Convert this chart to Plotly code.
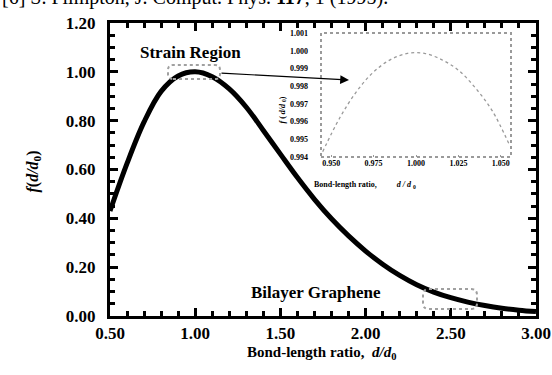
import plotly.graph_objects as go

# ---- main curve data ----
ratio = [0.5, 0.6, 0.7, 0.8, 0.9, 1.0, 1.1, 1.2, 1.3, 1.4, 1.5, 1.6, 1.7,
         1.8, 1.9, 2.0, 2.1, 2.2, 2.3, 2.4, 2.5, 2.6, 2.7, 2.8, 2.9, 3.0]
f_vals = [0.43, 0.625, 0.795, 0.92, 0.983, 1.00, 0.98, 0.93, 0.855, 0.76, 0.663,
          0.567, 0.478, 0.398, 0.328, 0.266, 0.212, 0.166, 0.128, 0.098, 0.075,
          0.057, 0.043, 0.032, 0.024, 0.018]

# ---- inset (zoom on strain region) ----
inset_ratio = [0.945, 0.955, 0.965, 0.975, 0.985, 0.995, 1.005, 1.015, 1.025,
               1.035, 1.045, 1.055]
inset_f = [0.9943, 0.9962, 0.9977, 0.9988, 0.9995, 0.99985, 0.99985, 0.9995,
           0.9989, 0.9979, 0.9966, 0.9947]

x_ticks = [0.5, 1.0, 1.5, 2.0, 2.5, 3.0]
y_ticks = [0.0, 0.2, 0.4, 0.6, 0.8, 1.0, 1.2]
inset_x_ticks = [0.950, 0.975, 1.000, 1.025, 1.050]
inset_y_ticks = [0.994, 0.995, 0.996, 0.997, 0.998, 0.999, 1.000, 1.001]

W, H = 552, 375
ML, MR, MT, MB = 110, 16, 23, 59
XR = [0.5, 3.0]
YR = [0.0, 1.2]
PW = W - ML - MR
PH = H - MT - MB

def px2x(px):
    return XR[0] + (px - ML) / PW * (XR[1] - XR[0])

def py2y(py):
    return YR[0] + (H - MB - py) / PH * (YR[1] - YR[0])

def px2paperx(px):
    return (px - ML) / PW

def py2papery(py):
    return (H - MB - py) / PH

def round_rect(px0, px1, py0, py1, r):
    x0, x1 = px2x(px0), px2x(px1)
    y0, y1 = py2y(py1), py2y(py0)
    rx = r / PW * (XR[1] - XR[0])
    ry = r / PH * (YR[1] - YR[0])
    return (f"M {x0+rx},{y0} L {x1-rx},{y0} Q {x1},{y0} {x1},{y0+ry} "
            f"L {x1},{y1-ry} Q {x1},{y1} {x1-rx},{y1} L {x0+rx},{y1} "
            f"Q {x0},{y1} {x0},{y1-ry} L {x0},{y0+ry} Q {x0},{y0} {x0+rx},{y0} Z")

SERIF = "Liberation Serif, Times New Roman, serif"

fig = go.Figure()
fig.add_trace(go.Scatter(x=ratio, y=f_vals, mode="lines",
                         line=dict(color="black", width=5, shape="spline"),
                         showlegend=False, hoverinfo="skip"))
fig.add_trace(go.Scatter(x=inset_ratio, y=inset_f, mode="lines",
                         line=dict(color="#9a9a9a", width=1.3, shape="spline", dash="dot"),
                         xaxis="x2", yaxis="y2", showlegend=False, hoverinfo="skip"))

tickfont = dict(family=SERIF, size=17, color="black")
small = dict(family=SERIF, size=8, color="black")

def b(vals, fmt):
    return [f"<b>{v:{fmt}}</b>" for v in vals]

inset_x_dom = [px2paperx(321), px2paperx(511)]
inset_y_dom = [py2papery(157), py2papery(33)]

fig.update_layout(
    width=W, height=H,
    margin=dict(l=ML, r=MR, t=MT, b=MB),
    paper_bgcolor="white", plot_bgcolor="white",
    xaxis=dict(range=XR, tickvals=x_ticks, ticktext=b(x_ticks, ".2f"), showgrid=False,
               zeroline=False, showline=True, linecolor="black", linewidth=3,
               mirror="ticks", ticks="inside", ticklen=8, tickwidth=3,
               tickcolor="black", tickfont=tickfont, automargin=False,
               minor=dict(dtick=0.1, ticks="inside", ticklen=5, tickwidth=3,
                          tickcolor="black", showgrid=False)),
    yaxis=dict(range=YR, tickvals=y_ticks, ticktext=b(y_ticks, ".2f"), showgrid=False,
               zeroline=False, showline=True, linecolor="black", linewidth=3,
               mirror="ticks", ticks="inside", ticklen=8, tickwidth=3,
               tickcolor="black", tickfont=tickfont, ticklabelstandoff=8,
               automargin=False,
               minor=dict(dtick=0.05, ticks="inside", ticklen=5, tickwidth=3,
                          tickcolor="black", showgrid=False)),
    xaxis2=dict(domain=inset_x_dom, anchor="y2", range=[0.944, 1.056],
                tickvals=inset_x_ticks, ticktext=b(inset_x_ticks, ".3f"), showgrid=False,
                zeroline=False, showline=False, ticks="inside", ticklen=2,
                tickcolor="#999", tickfont=small, automargin=False),
    yaxis2=dict(domain=inset_y_dom, anchor="x2", range=[0.994, 1.001],
                tickvals=inset_y_ticks, ticktext=b(inset_y_ticks, ".3f"), showgrid=False,
                zeroline=False, showline=False, ticks="", tickfont=small,
                ticklabelstandoff=12, automargin=False),
)

shapes = [
    dict(type="rect", xref="x2 domain", yref="y2 domain", x0=0, x1=1, y0=0, y1=1,
         line=dict(color="#9a9a9a", width=2, dash="dot"), layer="above"),
    dict(type="path", xref="x", yref="y", path=round_rect(168, 220, 65, 79, 5),
         line=dict(color="#a0a0a0", width=2, dash="dot")),
    dict(type="path", xref="x", yref="y", path=round_rect(423, 477, 289, 309, 6),
         line=dict(color="#a0a0a0", width=2, dash="dot")),
]
fig.update_layout(shapes=shapes)

ann = [
    dict(text="[6] S. Plimpton, J. Comput. Phys. <b>117</b>, 1 (1995).",
         xref="paper", yref="paper", x=px2paperx(0), y=py2papery(11),
         xanchor="left", yanchor="bottom", showarrow=False,
         font=dict(family=SERIF, size=20, color="black")),
    dict(text="<b>Strain Region</b>", xref="x", yref="y", x=px2x(190), y=py2y(52),
         showarrow=False, font=dict(family=SERIF, size=17, color="black")),
    dict(text="<b>Bilayer Graphene</b>", xref="x", yref="y", x=px2x(316), y=py2y(292),
         showarrow=False, font=dict(family=SERIF, size=17, color="black")),
    dict(text="<b>Bond-length ratio,  <i>d/d</i><sub>0</sub></b>", xref="paper", yref="paper",
         x=px2paperx(321), y=py2papery(364), showarrow=False,
         font=dict(family=SERIF, size=15, color="black")),
    dict(text="<b><i>f</i>(<i>d/d</i><sub>0</sub>)</b>", xref="paper", yref="paper",
         x=px2paperx(21), y=py2papery(172), textangle=-90, showarrow=False,
         font=dict(family=SERIF, size=16, color="black")),
    dict(text="<b>Bond-length ratio,          <i>d / d</i> <sub>0</sub></b>", xref="paper", yref="paper",
         x=px2paperx(418), y=py2papery(185), showarrow=False,
         font=dict(family=SERIF, size=8, color="black")),
    dict(text="<b><i>f</i> ( <i>d/d</i> <sub>0</sub>)</b>", xref="paper", yref="paper",
         x=px2paperx(282), y=py2papery(95), textangle=-90, showarrow=False,
         font=dict(family=SERIF, size=8, color="black")),
    dict(text="", xref="x", yref="y", x=px2x(349), y=py2y(80),
         axref="x", ayref="y", ax=px2x(220), ay=py2y(73),
         showarrow=True, arrowhead=2, arrowsize=1.6, arrowwidth=1.1,
         arrowcolor="black", standoff=0),
]
fig.update_layout(annotations=ann)

fig.write_html("out.html")
